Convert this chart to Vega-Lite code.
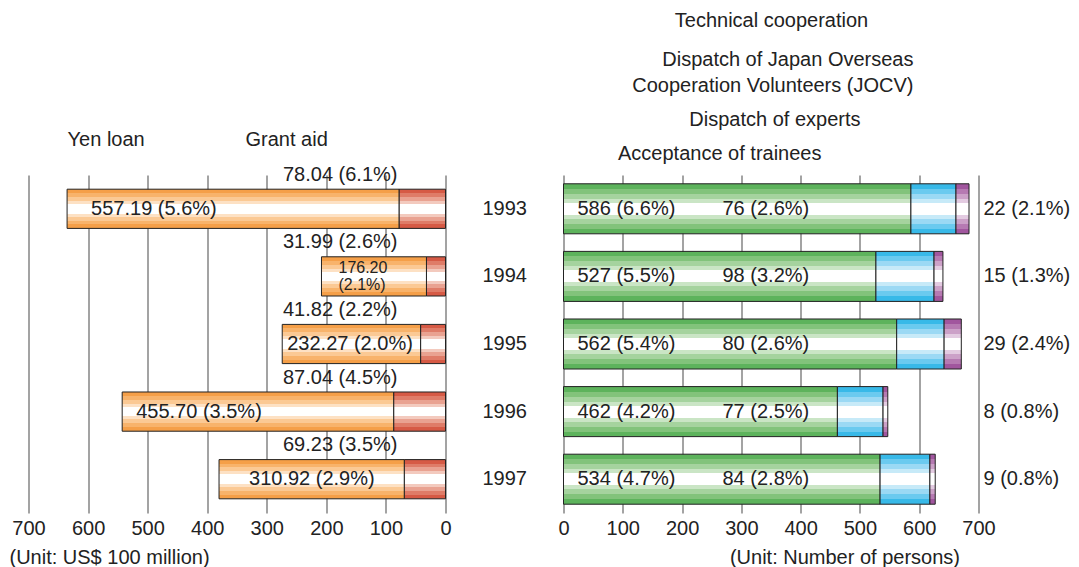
{
  "$schema": "https://vega.github.io/schema/vega-lite/v6.json",
  "padding": {"left": 8.5, "top": 11, "right": 0, "bottom": 0},
  "spacing": 118,
  "bounds": "flush",
  "config": {
    "view": {"stroke": null},
    "axis": {"labelFont": "Liberation Sans", "labelFontSize": 20, "labelColor": "#222", "titleFont": "Liberation Sans", "titleFontSize": 20, "titleFontWeight": "normal", "titleColor": "#222", "domain": false, "ticks": false, "labelFlush": false, "gridColor": "#666", "gridWidth": 1.2}
  },
  "hconcat": [
    {
      "width": 417,
      "height": 338,
      "data": {"values": [
        {"year": "1993", "kind": "Grant aid", "value": 78.04, "label": "78.04 (6.1%)"},
        {"year": "1993", "kind": "Yen loan", "value": 557.19, "label": "557.19 (5.6%)"},
        {"year": "1994", "kind": "Grant aid", "value": 31.99, "label": "31.99 (2.6%)"},
        {"year": "1994", "kind": "Yen loan", "value": 176.20, "label": "176.20\n(2.1%)"},
        {"year": "1995", "kind": "Grant aid", "value": 41.82, "label": "41.82 (2.2%)"},
        {"year": "1995", "kind": "Yen loan", "value": 232.27, "label": "232.27 (2.0%)"},
        {"year": "1996", "kind": "Grant aid", "value": 87.04, "label": "87.04 (4.5%)"},
        {"year": "1996", "kind": "Yen loan", "value": 455.70, "label": "455.70 (3.5%)"},
        {"year": "1997", "kind": "Grant aid", "value": 69.23, "label": "69.23 (3.5%)"},
        {"year": "1997", "kind": "Yen loan", "value": 310.92, "label": "310.92 (2.9%)"}
      ]},
      "transform": [
        {"stack": "value", "groupby": ["year"], "sort": [{"field": "kind", "order": "ascending"}], "as": ["v0", "v1"]},
        {"joinaggregate": [{"op": "min", "field": "v0", "as": "base"}], "groupby": ["year"]}
      ],
      "layer": [
        {
          "transform": [{"filter": "datum.kind === 'Grant aid'"}],
          "mark": {"type": "bar", "stroke": "#222", "strokeWidth": 1, "fill": {"gradient": "linear", "x1": 0, "y1": 0, "x2": 0, "y2": 1, "stops": [
            {"offset": 0, "color": "#d65a45"}, {"offset": 0.1, "color": "#d65a45"},
            {"offset": 0.1, "color": "#df7c68"}, {"offset": 0.2, "color": "#df7c68"},
            {"offset": 0.2, "color": "#e9a291"}, {"offset": 0.3, "color": "#e9a291"},
            {"offset": 0.3, "color": "#f3cabe"}, {"offset": 0.38, "color": "#f3cabe"},
            {"offset": 0.38, "color": "#ffffff"}, {"offset": 0.62, "color": "#ffffff"},
            {"offset": 0.62, "color": "#f3cabe"}, {"offset": 0.7, "color": "#f3cabe"},
            {"offset": 0.7, "color": "#e9a291"}, {"offset": 0.8, "color": "#e9a291"},
            {"offset": 0.8, "color": "#df7c68"}, {"offset": 0.9, "color": "#df7c68"},
            {"offset": 0.9, "color": "#d65a45"}, {"offset": 1, "color": "#d65a45"}]}},
          "encoding": {
            "x": {"field": "v0", "type": "quantitative", "scale": {"domain": [0, 700], "reverse": true, "nice": false},
                  "axis": {"values": [0, 100, 200, 300, 400, 500, 600, 700], "title": "(Unit: US$ 100 million)", "titleX": -19.5, "titleY": 44, "titleAlign": "left", "titleAnchor": "start", "titleBaseline": "middle", "labelPadding": 5}},
            "x2": {"field": "v1"},
            "y": {"field": "year", "type": "ordinal", "scale": {"paddingInner": 0.42, "paddingOuter": 0.21}, "axis": null}
          }
        },
        {
          "transform": [{"filter": "datum.kind === 'Yen loan'"}],
          "mark": {"type": "bar", "stroke": "#222", "strokeWidth": 1, "fill": {"gradient": "linear", "x1": 0, "y1": 0, "x2": 0, "y2": 1, "stops": [
            {"offset": 0, "color": "#f59f48"}, {"offset": 0.1, "color": "#f59f48"},
            {"offset": 0.1, "color": "#f8b36b"}, {"offset": 0.2, "color": "#f8b36b"},
            {"offset": 0.2, "color": "#fbc994"}, {"offset": 0.3, "color": "#fbc994"},
            {"offset": 0.3, "color": "#fde1c4"}, {"offset": 0.38, "color": "#fde1c4"},
            {"offset": 0.38, "color": "#ffffff"}, {"offset": 0.62, "color": "#ffffff"},
            {"offset": 0.62, "color": "#fde1c4"}, {"offset": 0.7, "color": "#fde1c4"},
            {"offset": 0.7, "color": "#fbc994"}, {"offset": 0.8, "color": "#fbc994"},
            {"offset": 0.8, "color": "#f8b36b"}, {"offset": 0.9, "color": "#f8b36b"},
            {"offset": 0.9, "color": "#f59f48"}, {"offset": 1, "color": "#f59f48"}]}},
          "encoding": {
            "x": {"field": "v0", "type": "quantitative"},
            "x2": {"field": "v1"},
            "y": {"field": "year", "type": "ordinal"}
          }
        },
        {
          "transform": [{"filter": "datum.kind === 'Grant aid'"}],
          "mark": {"type": "text", "font": "Liberation Sans", "fontSize": 20, "color": "#222", "baseline": "middle", "align": "right", "dx": -48, "dy": -34},
          "encoding": {
            "x": {"field": "base", "type": "quantitative"},
            "y": {"field": "year", "type": "ordinal"},
            "text": {"field": "label", "type": "nominal"}
          }
        },
        {
          "transform": [{"filter": "datum.kind === 'Yen loan' && datum.year === '1993'"}],
          "mark": {"type": "text", "font": "Liberation Sans", "fontSize": 20, "color": "#222", "baseline": "middle", "align": "left", "dx": 24},
          "encoding": {
            "x": {"field": "v1", "type": "quantitative"},
            "y": {"field": "year", "type": "ordinal"},
            "text": {"field": "label", "type": "nominal"}
          }
        },
        {
          "transform": [{"filter": "datum.kind === 'Yen loan' && datum.year === '1994'"}],
          "mark": {"type": "text", "font": "Liberation Sans", "fontSize": 16, "color": "#222", "baseline": "middle", "align": "left", "dx": 17, "dy": -8, "lineBreak": "\n", "lineHeight": 16.5},
          "encoding": {
            "x": {"field": "v1", "type": "quantitative"},
            "y": {"field": "year", "type": "ordinal"},
            "text": {"field": "label", "type": "nominal"}
          }
        },
        {
          "transform": [{"filter": "datum.kind === 'Yen loan' && datum.year === '1995'"}],
          "mark": {"type": "text", "font": "Liberation Sans", "fontSize": 20, "color": "#222", "baseline": "middle", "align": "left", "dx": 5},
          "encoding": {
            "x": {"field": "v1", "type": "quantitative"},
            "y": {"field": "year", "type": "ordinal"},
            "text": {"field": "label", "type": "nominal"}
          }
        },
        {
          "transform": [{"filter": "datum.kind === 'Yen loan' && datum.year === '1996'"}],
          "mark": {"type": "text", "font": "Liberation Sans", "fontSize": 20, "color": "#222", "baseline": "middle", "align": "left", "dx": 14},
          "encoding": {
            "x": {"field": "v1", "type": "quantitative"},
            "y": {"field": "year", "type": "ordinal"},
            "text": {"field": "label", "type": "nominal"}
          }
        },
        {
          "transform": [{"filter": "datum.kind === 'Yen loan' && datum.year === '1997'"}],
          "mark": {"type": "text", "font": "Liberation Sans", "fontSize": 20, "color": "#222", "baseline": "middle", "align": "left", "dx": 30},
          "encoding": {
            "x": {"field": "v1", "type": "quantitative"},
            "y": {"field": "year", "type": "ordinal"},
            "text": {"field": "label", "type": "nominal"}
          }
        },
        {
          "transform": [{"filter": "datum.kind === 'Yen loan' && datum.year === '1993'"}],
          "mark": {"type": "text", "text": "Yen loan", "font": "Liberation Sans", "fontSize": 20, "color": "#222", "baseline": "middle", "align": "left", "dx": 0.5, "dy": -68.5},
          "encoding": {
            "x": {"field": "v1", "type": "quantitative"},
            "y": {"field": "year", "type": "ordinal"}
          }
        },
        {
          "transform": [{"filter": "datum.kind === 'Grant aid' && datum.year === '1993'"}],
          "mark": {"type": "text", "text": "Grant aid", "font": "Liberation Sans", "fontSize": 20, "color": "#222", "baseline": "middle", "align": "left", "dx": -200, "dy": -68.5},
          "encoding": {
            "x": {"field": "base", "type": "quantitative"},
            "y": {"field": "year", "type": "ordinal"}
          }
        }
      ]
    },
    {
      "width": 415,
      "height": 338,
      "data": {"values": [
        {"year": "1993", "kind": "Acceptance of trainees", "value": 586, "label": "586 (6.6%)"},
        {"year": "1993", "kind": "Dispatch of experts", "value": 76, "label": "76 (2.6%)"},
        {"year": "1993", "kind": "JOCV", "value": 22, "label": "22 (2.1%)"},
        {"year": "1994", "kind": "Acceptance of trainees", "value": 527, "label": "527 (5.5%)"},
        {"year": "1994", "kind": "Dispatch of experts", "value": 98, "label": "98 (3.2%)"},
        {"year": "1994", "kind": "JOCV", "value": 15, "label": "15 (1.3%)"},
        {"year": "1995", "kind": "Acceptance of trainees", "value": 562, "label": "562 (5.4%)"},
        {"year": "1995", "kind": "Dispatch of experts", "value": 80, "label": "80 (2.6%)"},
        {"year": "1995", "kind": "JOCV", "value": 29, "label": "29 (2.4%)"},
        {"year": "1996", "kind": "Acceptance of trainees", "value": 462, "label": "462 (4.2%)"},
        {"year": "1996", "kind": "Dispatch of experts", "value": 77, "label": "77 (2.5%)"},
        {"year": "1996", "kind": "JOCV", "value": 8, "label": "8 (0.8%)"},
        {"year": "1997", "kind": "Acceptance of trainees", "value": 534, "label": "534 (4.7%)"},
        {"year": "1997", "kind": "Dispatch of experts", "value": 84, "label": "84 (2.8%)"},
        {"year": "1997", "kind": "JOCV", "value": 9, "label": "9 (0.8%)"}
      ]},
      "transform": [
        {"stack": "value", "groupby": ["year"], "sort": [{"field": "kind", "order": "ascending"}], "as": ["v0", "v1"]},
        {"joinaggregate": [{"op": "min", "field": "v0", "as": "base"}], "groupby": ["year"]}
      ],
      "layer": [
        {
          "transform": [{"filter": "datum.kind === 'Acceptance of trainees'"}],
          "mark": {"type": "bar", "stroke": "#222", "strokeWidth": 1, "fill": {"gradient": "linear", "x1": 0, "y1": 0, "x2": 0, "y2": 1, "stops": [
            {"offset": 0, "color": "#5db35c"}, {"offset": 0.1, "color": "#5db35c"},
            {"offset": 0.1, "color": "#82c37b"}, {"offset": 0.2, "color": "#82c37b"},
            {"offset": 0.2, "color": "#a5d39e"}, {"offset": 0.3, "color": "#a5d39e"},
            {"offset": 0.3, "color": "#cae5c5"}, {"offset": 0.38, "color": "#cae5c5"},
            {"offset": 0.38, "color": "#ffffff"}, {"offset": 0.62, "color": "#ffffff"},
            {"offset": 0.62, "color": "#cae5c5"}, {"offset": 0.7, "color": "#cae5c5"},
            {"offset": 0.7, "color": "#a5d39e"}, {"offset": 0.8, "color": "#a5d39e"},
            {"offset": 0.8, "color": "#82c37b"}, {"offset": 0.9, "color": "#82c37b"},
            {"offset": 0.9, "color": "#5db35c"}, {"offset": 1, "color": "#5db35c"}]}},
          "encoding": {
            "x": {"field": "v0", "type": "quantitative", "scale": {"domain": [0, 700], "nice": false},
                  "axis": {"values": [0, 100, 200, 300, 400, 500, 600, 700], "title": "(Unit: Number of persons)", "titleX": 396, "titleY": 44, "titleAlign": "right", "titleAnchor": "end", "titleBaseline": "middle", "labelPadding": 5}},
            "x2": {"field": "v1"},
            "y": {"field": "year", "type": "ordinal", "scale": {"paddingInner": 0.26, "paddingOuter": 0.13}, "axis": {"title": null, "labelPadding": 37}}
          }
        },
        {
          "transform": [{"filter": "datum.kind === 'Dispatch of experts'"}],
          "mark": {"type": "bar", "stroke": "#222", "strokeWidth": 1, "fill": {"gradient": "linear", "x1": 0, "y1": 0, "x2": 0, "y2": 1, "stops": [
            {"offset": 0, "color": "#38b9e8"}, {"offset": 0.1, "color": "#38b9e8"},
            {"offset": 0.1, "color": "#6bcaef"}, {"offset": 0.2, "color": "#6bcaef"},
            {"offset": 0.2, "color": "#9bd9f4"}, {"offset": 0.3, "color": "#9bd9f4"},
            {"offset": 0.3, "color": "#c7eaf8"}, {"offset": 0.38, "color": "#c7eaf8"},
            {"offset": 0.38, "color": "#ffffff"}, {"offset": 0.62, "color": "#ffffff"},
            {"offset": 0.62, "color": "#c7eaf8"}, {"offset": 0.7, "color": "#c7eaf8"},
            {"offset": 0.7, "color": "#9bd9f4"}, {"offset": 0.8, "color": "#9bd9f4"},
            {"offset": 0.8, "color": "#6bcaef"}, {"offset": 0.9, "color": "#6bcaef"},
            {"offset": 0.9, "color": "#38b9e8"}, {"offset": 1, "color": "#38b9e8"}]}},
          "encoding": {
            "x": {"field": "v0", "type": "quantitative"},
            "x2": {"field": "v1"},
            "y": {"field": "year", "type": "ordinal"}
          }
        },
        {
          "transform": [{"filter": "datum.kind === 'JOCV'"}],
          "mark": {"type": "bar", "stroke": "#222", "strokeWidth": 1, "fill": {"gradient": "linear", "x1": 0, "y1": 0, "x2": 0, "y2": 1, "stops": [
            {"offset": 0, "color": "#a1569e"}, {"offset": 0.1, "color": "#a1569e"},
            {"offset": 0.1, "color": "#b67ab2"}, {"offset": 0.2, "color": "#b67ab2"},
            {"offset": 0.2, "color": "#cca1c8"}, {"offset": 0.3, "color": "#cca1c8"},
            {"offset": 0.3, "color": "#e3cbe1"}, {"offset": 0.38, "color": "#e3cbe1"},
            {"offset": 0.38, "color": "#ffffff"}, {"offset": 0.62, "color": "#ffffff"},
            {"offset": 0.62, "color": "#e3cbe1"}, {"offset": 0.7, "color": "#e3cbe1"},
            {"offset": 0.7, "color": "#cca1c8"}, {"offset": 0.8, "color": "#cca1c8"},
            {"offset": 0.8, "color": "#b67ab2"}, {"offset": 0.9, "color": "#b67ab2"},
            {"offset": 0.9, "color": "#a1569e"}, {"offset": 1, "color": "#a1569e"}]}},
          "encoding": {
            "x": {"field": "v0", "type": "quantitative"},
            "x2": {"field": "v1"},
            "y": {"field": "year", "type": "ordinal"}
          }
        },
        {
          "transform": [{"filter": "datum.kind === 'Acceptance of trainees'"}],
          "mark": {"type": "text", "font": "Liberation Sans", "fontSize": 20, "color": "#222", "baseline": "middle", "align": "left", "dx": 14},
          "encoding": {
            "x": {"field": "base", "type": "quantitative"},
            "y": {"field": "year", "type": "ordinal"},
            "text": {"field": "label", "type": "nominal"}
          }
        },
        {
          "transform": [{"filter": "datum.kind === 'Dispatch of experts'"}],
          "mark": {"type": "text", "font": "Liberation Sans", "fontSize": 20, "color": "#222", "baseline": "middle", "align": "left", "dx": 159},
          "encoding": {
            "x": {"field": "base", "type": "quantitative"},
            "y": {"field": "year", "type": "ordinal"},
            "text": {"field": "label", "type": "nominal"}
          }
        },
        {
          "transform": [{"filter": "datum.kind === 'JOCV'"}],
          "mark": {"type": "text", "font": "Liberation Sans", "fontSize": 20, "color": "#222", "baseline": "middle", "align": "left", "dx": 420},
          "encoding": {
            "x": {"field": "base", "type": "quantitative"},
            "y": {"field": "year", "type": "ordinal"},
            "text": {"field": "label", "type": "nominal"}
          }
        },
        {
          "transform": [{"filter": "datum.kind === 'Acceptance of trainees' && datum.year === '1993'"}],
          "mark": {"type": "text", "text": "Technical cooperation", "font": "Liberation Sans", "fontSize": 20, "color": "#222", "baseline": "middle", "align": "center", "dx": 208, "dy": -187.5},
          "encoding": {
            "x": {"field": "base", "type": "quantitative"},
            "y": {"field": "year", "type": "ordinal"}
          }
        },
        {
          "transform": [{"filter": "datum.kind === 'Acceptance of trainees' && datum.year === '1993'"}],
          "mark": {"type": "text", "text": ["Dispatch of Japan Overseas", "Cooperation Volunteers (JOCV)"], "font": "Liberation Sans", "fontSize": 20, "color": "#222", "baseline": "middle", "align": "right", "lineHeight": 26, "dx": 350, "dy": -148.5},
          "encoding": {
            "x": {"field": "base", "type": "quantitative"},
            "y": {"field": "year", "type": "ordinal"}
          }
        },
        {
          "transform": [{"filter": "datum.kind === 'Acceptance of trainees' && datum.year === '1993'"}],
          "mark": {"type": "text", "text": "Dispatch of experts", "font": "Liberation Sans", "fontSize": 20, "color": "#222", "baseline": "middle", "align": "right", "dx": 297, "dy": -88.5},
          "encoding": {
            "x": {"field": "base", "type": "quantitative"},
            "y": {"field": "year", "type": "ordinal"}
          }
        },
        {
          "transform": [{"filter": "datum.kind === 'Acceptance of trainees' && datum.year === '1993'"}],
          "mark": {"type": "text", "text": "Acceptance of trainees", "font": "Liberation Sans", "fontSize": 20, "color": "#222", "baseline": "middle", "align": "right", "dx": 258, "dy": -54.5},
          "encoding": {
            "x": {"field": "base", "type": "quantitative"},
            "y": {"field": "year", "type": "ordinal"}
          }
        }
      ]
    }
  ]
}
